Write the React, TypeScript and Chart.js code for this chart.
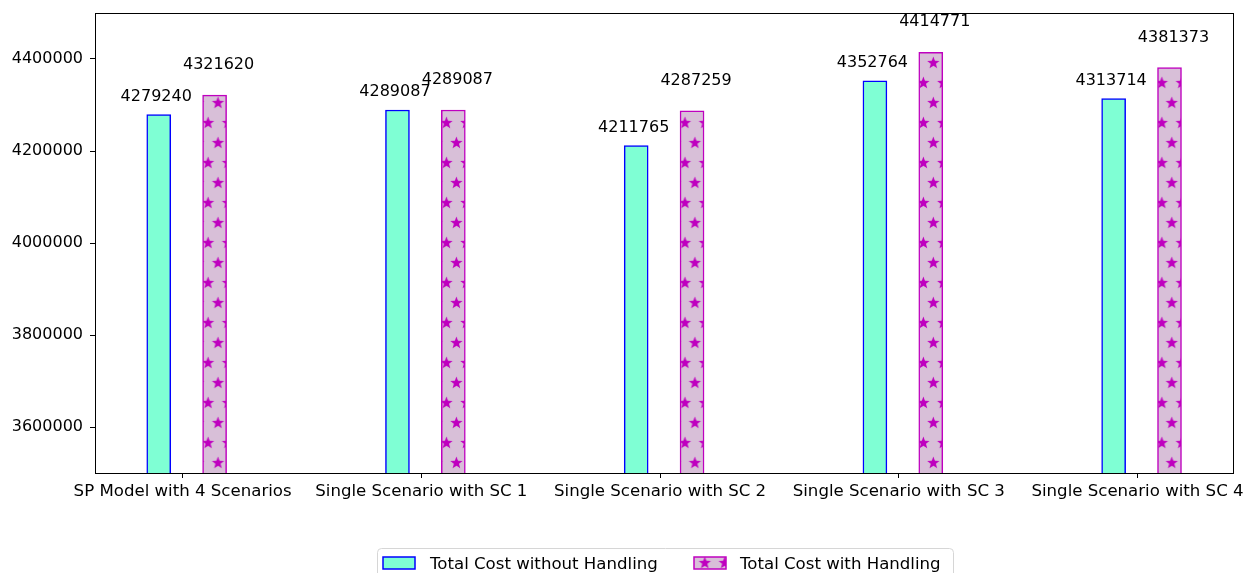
import React, { useEffect, useRef } from 'react';
import { Chart, registerables } from 'chart.js';

Chart.register(...registerables);

// ---- data ----
const categories = [
  'SP Model with 4 Scenarios',
  'Single Scenario with SC 1',
  'Single Scenario with SC 2',
  'Single Scenario with SC 3',
  'Single Scenario with SC 4',
];
const costWithoutHandling = [4279240, 4289087, 4211765, 4352764, 4313714];
const costWithHandling = [4321620, 4289087, 4287259, 4414771, 4381373];
const yTicks = [3600000, 3800000, 4000000, 4200000, 4400000];
const seriesLabels = ['Total Cost without Handling', 'Total Cost with Handling'];

// ---- layout / style constants ----
const BAR2_SHIFT = 0.234;
const TICK_SHIFT = 0.1;
const X_MIN = -0.267;
const X_MAX = 4.5;
const Y_MIN = 3500000;
const Y_MAX = 4500000;
const FONT = 'DejaVu Sans';
const NUM_SIZE = 16;
const TEXT_SIZE = 16.6;
const COLOR_A = '#7fffd4';
const EDGE_A = '#0000ff';
const FILL_B = '#d8bfd8';
const EDGE_B = '#bf00bf';
const LABEL_OFFSETS = [14, 26];
const LABEL_DX = [-2.5, 4];
const HATCH_PERIOD_X = 19.87;

function drawStar(g: CanvasRenderingContext2D, cx: number, cy: number, ro: number, ri: number) {
  g.beginPath();
  for (let k = 0; k < 10; k++) {
    const r = k % 2 === 0 ? ro : ri;
    const a = -Math.PI / 2 + (k * Math.PI) / 5;
    const px = cx + r * Math.cos(a);
    const py = cy + r * Math.sin(a);
    if (k === 0) g.moveTo(px, py);
    else g.lineTo(px, py);
  }
  g.closePath();
  g.fill();
}

function makeStarPattern(ctx: CanvasRenderingContext2D): CanvasPattern | string {
  const c = document.createElement('canvas');
  c.width = 20;
  c.height = 40;
  const g = c.getContext('2d');
  if (!g) return FILL_B;
  g.fillStyle = FILL_B;
  g.fillRect(0, 0, 20, 40);
  g.fillStyle = EDGE_B;
  const centers = [
    [19.4, 23],
    [9.4, 3],
  ];
  for (const [cx, cy] of centers) {
    for (const dx of [-20, 0, 20]) {
      for (const dy of [-40, 0, 40]) {
        drawStar(g, cx + dx, cy + dy, 6.5, 2.7);
      }
    }
  }
  const pat = ctx.createPattern(c, 'repeat');
  if (!pat) return FILL_B;
  try {
    if (typeof (pat as any).setTransform === 'function' && typeof DOMMatrix !== 'undefined') {
      (pat as any).setTransform(new DOMMatrix([HATCH_PERIOD_X / 20, 0, 0, 1, 0, 0]));
    }
  } catch (e) {
    // ignore
  }
  return pat;
}

const framePlugin = {
  id: 'frame',
  afterDatasetsDraw(chart: any) {
    const { ctx, chartArea } = chart;
    ctx.save();
    ctx.strokeStyle = '#000';
    ctx.lineWidth = 1;
    ctx.strokeRect(
      Math.round(chartArea.left) + 0.5,
      Math.round(chartArea.top) + 0.5,
      Math.round(chartArea.right - chartArea.left),
      Math.round(chartArea.bottom - chartArea.top)
    );
    ctx.restore();
  },
};

const valueLabelPlugin = {
  id: 'valueLabels',
  afterDatasetsDraw(chart: any) {
    const { ctx } = chart;
    ctx.save();
    ctx.font = `${NUM_SIZE}px "${FONT}"`;
    ctx.fillStyle = '#000';
    ctx.textAlign = 'center';
    ctx.textBaseline = 'alphabetic';
    chart.data.datasets.forEach((ds: any, di: number) => {
      const meta = chart.getDatasetMeta(di);
      meta.data.forEach((el: any, i: number) => {
        const v = ds.data[i].y;
        ctx.fillText(String(v), el.x + LABEL_DX[di], el.y - LABEL_OFFSETS[di]);
      });
    });
    ctx.restore();
  },
};

const legendPlugin = {
  id: 'customLegend',
  afterDraw(chart: any) {
    const { ctx } = chart;
    const ds = chart.data.datasets;
    ctx.save();
    const fx = 377.5, fy = 548.5, fw = 576, fh = 40, r = 4;
    ctx.beginPath();
    ctx.moveTo(fx + r, fy);
    ctx.lineTo(fx + fw - r, fy);
    ctx.quadraticCurveTo(fx + fw, fy, fx + fw, fy + r);
    ctx.lineTo(fx + fw, fy + fh);
    ctx.lineTo(fx, fy + fh);
    ctx.lineTo(fx, fy + r);
    ctx.quadraticCurveTo(fx, fy, fx + r, fy);
    ctx.closePath();
    ctx.fillStyle = 'rgba(255,255,255,0.8)';
    ctx.fill();
    ctx.strokeStyle = '#d6d6d6';
    ctx.lineWidth = 1;
    ctx.stroke();

    const handles = [
      { x: 383, text: 430 },
      { x: 694, text: 740 },
    ];
    handles.forEach((h, i) => {
      ctx.fillStyle = ds[i].backgroundColor;
      ctx.fillRect(h.x, 557, 32, 12);
      ctx.strokeStyle = ds[i].borderColor;
      ctx.lineWidth = 1.5;
      ctx.strokeRect(h.x, 557, 32, 12);
      ctx.fillStyle = '#000';
      ctx.font = `${TEXT_SIZE}px "${FONT}"`;
      ctx.textAlign = 'left';
      ctx.textBaseline = 'alphabetic';
      ctx.fillText(ds[i].label, h.text, 568.5);
    });
    ctx.restore();
  },
};

export default function App() {
  const canvasRef = useRef<HTMLCanvasElement | null>(null);

  useEffect(() => {
    const canvas = canvasRef.current;
    if (!canvas) return;
    const ctx = canvas.getContext('2d');
    if (!ctx) return;
    const pattern = makeStarPattern(ctx);

    const chart = new Chart(ctx, {
      type: 'bar',
      data: {
        datasets: [
          {
            label: seriesLabels[0],
            data: costWithoutHandling.map((v, i) => ({ x: i, y: v })),
            backgroundColor: COLOR_A,
            borderColor: EDGE_A,
            borderWidth: 1.5,
            borderSkipped: false,
          },
          {
            label: seriesLabels[1],
            data: costWithHandling.map((v, i) => ({ x: i + BAR2_SHIFT, y: v })),
            backgroundColor: pattern as any,
            borderColor: EDGE_B,
            borderWidth: 1.5,
            borderSkipped: false,
          },
        ],
      },
      options: {
        animation: false,
        responsive: true,
        maintainAspectRatio: false,
        grouped: false,
        barThickness: 24,
        layout: { padding: { top: 13, right: 17, left: 0, bottom: 0 } },
        plugins: {
          legend: { display: false },
          tooltip: { enabled: false },
        },
        scales: {
          x: {
            type: 'linear',
            offset: false,
            min: X_MIN,
            max: X_MAX,
            afterBuildTicks: (scale: any) => {
              scale.ticks = categories.map((_, i) => ({ value: i + TICK_SHIFT }));
            },
            afterFit: (scale: any) => {
              scale.height = 100;
              scale.paddingLeft = 0;
              scale.paddingRight = 0;
            },
            grid: {
              display: true,
              offset: false,
              drawOnChartArea: false,
              drawTicks: true,
              tickLength: 5,
              color: '#000',
              lineWidth: 1,
            },
            border: { display: false },
            ticks: {
              autoSkip: false,
              maxRotation: 0,
              minRotation: 0,
              padding: 4,
              color: '#000',
              font: { family: FONT, size: TEXT_SIZE },
              callback: (value: any) => categories[Math.round(Number(value) - TICK_SHIFT)] ?? '',
            },
          },
          y: {
            type: 'linear',
            min: Y_MIN,
            max: Y_MAX,
            afterBuildTicks: (scale: any) => {
              scale.ticks = yTicks.map((v) => ({ value: v }));
            },
            afterFit: (scale: any) => {
              scale.width = 95;
              scale.paddingTop = 0;
              scale.paddingBottom = 0;
            },
            grid: {
              display: true,
              drawOnChartArea: false,
              drawTicks: true,
              tickLength: 5,
              color: '#000',
              lineWidth: 1,
            },
            border: { display: false },
            ticks: {
              padding: 7,
              color: '#000',
              font: { family: FONT, size: NUM_SIZE },
              callback: (value: any) => String(value),
            },
          },
        },
      } as any,
      plugins: [framePlugin, valueLabelPlugin, legendPlugin],
    });

    return () => chart.destroy();
  }, []);

  return (
    <div style={{ position: 'fixed', left: 0, top: 0, width: 1250, height: 573, background: '#fff' }}>
      <canvas ref={canvasRef} />
    </div>
  );
}
